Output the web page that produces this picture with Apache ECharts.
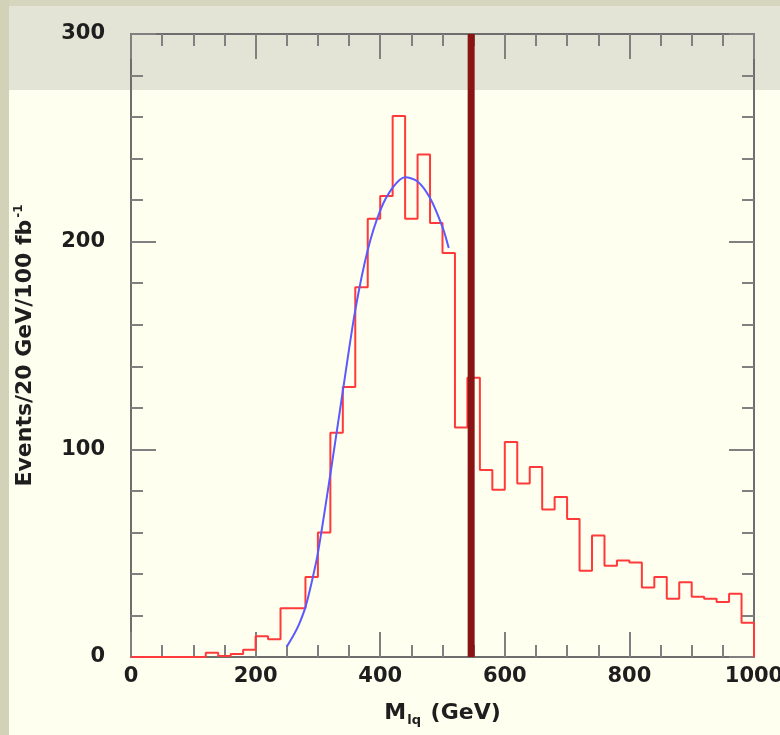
<!DOCTYPE html>
<html>
<head>
<meta charset="utf-8">
<script src="https://cdn.jsdelivr.net/npm/echarts@6/dist/echarts.min.js"></script>
<style>
html,body{margin:0;padding:0;background:#fffff0;}
#c{width:780px;height:735px;}
</style>
</head>
<body>
<div id="c"></div>
<script>
// Histogram: 20 GeV bins from 0 to 1000 GeV
const binWidth = 20;
const binStart = 0;
const counts = [0, 0, 0, 0, 0, 0, 2, 0.5, 1.5, 3.5,
  10, 8.5, 23.5, 23.5, 38.5, 60, 108, 130, 178, 211,
  222, 260.5, 211, 242, 209, 194.5, 110.5, 134.5, 90, 80.5,
  103.5, 83.5, 91.5, 71, 77, 66.5, 41.5, 58.5, 44, 46.5,
  45.5, 33.5, 38.5, 28, 36, 29, 28, 26.5, 30.5, 16.5];

// Fit curve
const fitX = [250, 260, 270, 280, 290, 300, 320, 340, 360, 380, 400, 420, 440, 460, 480, 500, 510];
const fitY = [5, 10, 16, 24, 36, 50, 88, 128, 167, 196, 215, 226, 231, 229, 221, 207, 197];

// Vertical cut line
const cutX = 546;

const xTicks = [0, 200, 400, 600, 800, 1000];
const yTicks = [0, 100, 200, 300];

const histData = counts.map((v, i) => [binStart + i * binWidth, v]);
histData.push([binStart + counts.length * binWidth, counts[counts.length - 1]]);
histData.push([binStart + counts.length * binWidth, 0]);

const fitData = fitX.map((x, i) => [x, fitY[i]]);

const chart = echarts.init(document.getElementById('c'));
const axisCol = '#6e6e6e';
const tickCol = '#808080';
const FONT = 'DejaVu Sans';
const TXT = '#1e1e1e';
const labelFont = {color: TXT, fontFamily: FONT, fontSize: 21, fontWeight: 'bold'};

function xAx(pos, showLabel) {
  return {
    type: 'value', position: pos, min: 0, max: 1000, interval: 200,
    axisLine: {show: true, onZero: false, lineStyle: {color: axisCol, width: 2}},
    axisTick: {show: true, inside: true, length: 25, lineStyle: {color: tickCol, width: 2}},
    minorTick: {show: true, splitNumber: 4, length: 12, lineStyle: {color: tickCol, width: 2}},
    splitLine: {show: false},
    axisLabel: Object.assign({show: showLabel, margin: 9,
      formatter: v => xTicks.includes(v) ? String(v) : ''}, labelFont),
    name: showLabel ? '{a|M}{b|lq}{a| (GeV)}' : '',
    nameLocation: 'middle', nameGap: 43,
    nameTextStyle: {rich: {
      a: {fontFamily: FONT, fontSize: 22, color: TXT, fontWeight: 'bold'},
      b: {fontFamily: FONT, fontSize: 13, color: TXT, fontWeight: 'bold', padding: [14, 2, 0, 1]}
    }}
  };
}
function yAx(pos, showLabel) {
  return {
    type: 'value', position: pos, min: 0, max: 300, interval: 100,
    axisLine: {show: true, onZero: false, lineStyle: {color: axisCol, width: 2}},
    axisTick: {show: true, inside: true, length: 25, lineStyle: {color: tickCol, width: 2}},
    minorTick: {show: true, splitNumber: 5, length: 12, lineStyle: {color: tickCol, width: 2}},
    splitLine: {show: false},
    axisLabel: Object.assign({show: showLabel, margin: 26,
      formatter: v => yTicks.includes(v) ? String(v) : ''}, labelFont),
    name: showLabel ? 'Events/20 GeV/100 fb{s|-1}' : '',
    nameLocation: 'middle', nameGap: 94, nameRotate: 90,
    nameTextStyle: {fontFamily: FONT, fontSize: 22, color: TXT, fontWeight: 'bold',
      rich: {s: {fontFamily: FONT, fontSize: 12, color: TXT, fontWeight: 'bold', padding: [0, 0, 12, 2]}}}
  };
}

chart.setOption({
  backgroundColor: '#fffff0',
  animation: false,
  graphic: [
    {type: 'rect', z: -10, silent: true, shape: {x: 0, y: 0, width: 780, height: 6}, style: {fill: '#d6d6bf'}},
    {type: 'rect', z: -10, silent: true, shape: {x: 0, y: 0, width: 9, height: 735}, style: {fill: '#d2d2b8'}},
    {type: 'rect', z: -10, silent: true, shape: {x: 9, y: 6, width: 771, height: 84}, style: {fill: '#e4e4d6'}}
  ],
  grid: {left: 131, right: 26, top: 34, bottom: 78, containLabel: false, outerBoundsMode: 'none'},
  xAxis: [xAx('bottom', true), xAx('top', false)],
  yAxis: [yAx('left', true), yAx('right', false)],
  series: [
    {type: 'line', data: histData, step: 'end', showSymbol: false, symbol: 'none',
      lineStyle: {color: '#ff3a3a', width: 2}, z: 3},
    {type: 'line', data: fitData, smooth: 0.3, showSymbol: false, symbol: 'none',
      lineStyle: {color: '#5a5aff', width: 2}, z: 4},
    {type: 'line', data: [[cutX, 0], [cutX, 300]], showSymbol: false, symbol: 'none',
      lineStyle: {color: '#8a1414', width: 7, cap: 'butt'}, z: 5}
  ]
});
</script>
</body>
</html>
